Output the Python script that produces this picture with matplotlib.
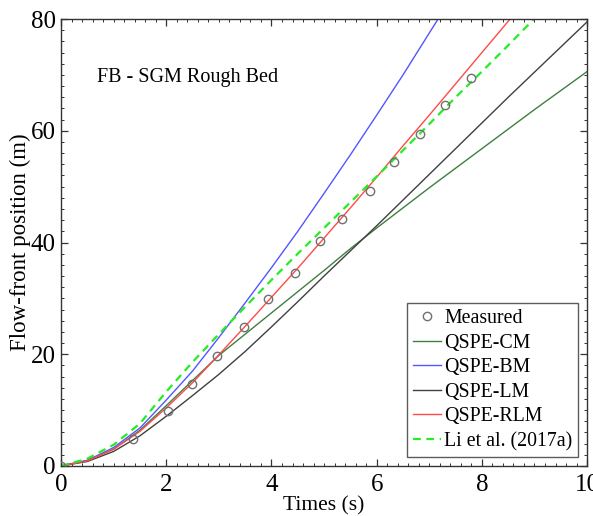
import matplotlib
matplotlib.use("Agg")
import matplotlib.pyplot as plt
from matplotlib.ticker import MultipleLocator

plt.rcParams['font.family'] = ['Liberation Serif', 'DejaVu Serif']
plt.rcParams['mathtext.fontset'] = 'stix'

# Measured data
meas_t = [0.0, 1.36, 2.03, 2.49, 2.97, 3.48, 3.93, 4.45, 4.92, 5.34, 5.88, 6.32, 6.83, 7.29, 7.80]
meas_x = [0.0, 4.9, 9.9, 14.6, 19.6, 24.8, 29.9, 34.6, 40.3, 44.3, 49.2, 54.5, 59.4, 64.6, 69.4]

t = [0.0, 0.5, 1.0, 1.5, 2.0, 2.5, 3.0, 3.5, 4.0, 4.5, 5.0, 5.5, 6.0, 6.5, 7.0, 7.5, 8.0, 8.5, 9.0, 9.5, 10.0]
cm  = [0.0, 1.0, 3.0, 6.4, 10.8, 15.3, 19.8, 23.6, 27.4, 31.2, 35.0, 38.9, 42.6, 46.2, 49.8, 53.3, 56.8, 60.3, 63.8, 67.2, 70.6]
lm  = [0.0, 0.8, 2.6, 5.4, 8.9, 12.6, 16.4, 20.5, 24.9, 29.4, 34.0, 38.5, 43.0, 47.6, 52.2, 56.8, 61.4, 66.0, 70.5, 75.0, 79.5]
t_bm = [0.0, 0.5, 1.0, 1.5, 2.0, 2.5, 3.0, 3.5, 4.0, 4.5, 5.0, 5.5, 6.0, 6.5, 7.0, 7.5]
bm  = [0.0, 1.0, 3.3, 6.8, 11.8, 17.0, 23.0, 29.2, 35.5, 42.0, 48.8, 55.7, 62.8, 70.0, 77.5, 85.0]
t_rlm = [0.0, 0.5, 1.0, 1.5, 2.0, 2.5, 3.0, 3.5, 4.0, 4.5, 5.0, 5.5, 6.0, 6.5, 7.0, 7.5, 8.0, 8.5, 9.0]
rlm = [0.0, 0.9, 3.0, 6.2, 10.4, 14.9, 19.9, 25.0, 30.2, 35.4, 40.8, 46.2, 51.7, 57.3, 62.8, 68.4, 74.0, 79.6, 85.2]
t_li = [0.0, 0.5, 1.0, 1.5, 2.0, 2.5, 3.0, 3.5, 4.0, 4.5, 5.0, 5.5, 6.0, 6.5, 7.0, 7.5, 8.0, 8.5, 9.0, 9.5]
li  = [0.0, 1.3, 3.8, 7.6, 13.3, 18.6, 23.6, 28.5, 33.3, 38.0, 42.6, 47.2, 51.8, 56.5, 61.2, 66.0, 70.6, 75.3, 80.1, 84.8]

fig = plt.figure(figsize=(5.93, 5.16), dpi=100)
ax = fig.add_axes([0.103, 0.097, 0.887, 0.866])

ax.plot(meas_t, meas_x, 'o', mfc='none', mec='#707070', ms=6, mew=1.0, label='Measured', zorder=5)
ax.plot(t, cm, color='#3f7f3f', lw=1.0, label='QSPE-CM')
ax.plot(t_bm, bm, color='#5555ff', lw=1.0, label='QSPE-BM')
ax.plot(t, lm, color='#404040', lw=1.0, label='QSPE-LM')
ax.plot(t_rlm, rlm, color='#ff4a4a', lw=1.0, label='QSPE-RLM')
ax.plot(t_li, li, color='#22ee22', lw=1.6, ls=(0, (3.5, 2.5)), label='Li et al. (2017a)')

ax.set_xlim(0, 10)
ax.set_ylim(0, 80)
ax.xaxis.set_major_locator(MultipleLocator(2))
ax.xaxis.set_minor_locator(MultipleLocator(0.2))
ax.yaxis.set_major_locator(MultipleLocator(20))
ax.yaxis.set_minor_locator(MultipleLocator(2))
ax.tick_params(which='both', direction='in', top=True, right=True, labelsize=18, color='#333333')
ax.tick_params(which='major', length=5, width=0.9)
ax.tick_params(axis='x', which='major', pad=6)
ax.tick_params(axis='y', which='major', pad=4)
ax.tick_params(which='minor', length=2.5, width=0.7)
for s in ax.spines.values():
    s.set_linewidth(1.0)
    s.set_color('#333333')

ax.set_xlabel('Times (s)', fontsize=15.5, labelpad=0)
ax.set_ylabel('Flow-front position (m)', fontsize=16.5, labelpad=0)

ax.text(0.69, 69.5, 'FB - SGM Rough Bed', fontsize=14.5, va='center', ha='left')

leg = ax.legend(loc='lower right', fontsize=14.3, frameon=True, fancybox=False,
                edgecolor='#333333', handlelength=1.4, handletextpad=0.15,
                borderpad=0.3, labelspacing=0.28, borderaxespad=0.45)
leg.get_frame().set_linewidth(1.0)

fig.savefig('out.png', dpi=100)
